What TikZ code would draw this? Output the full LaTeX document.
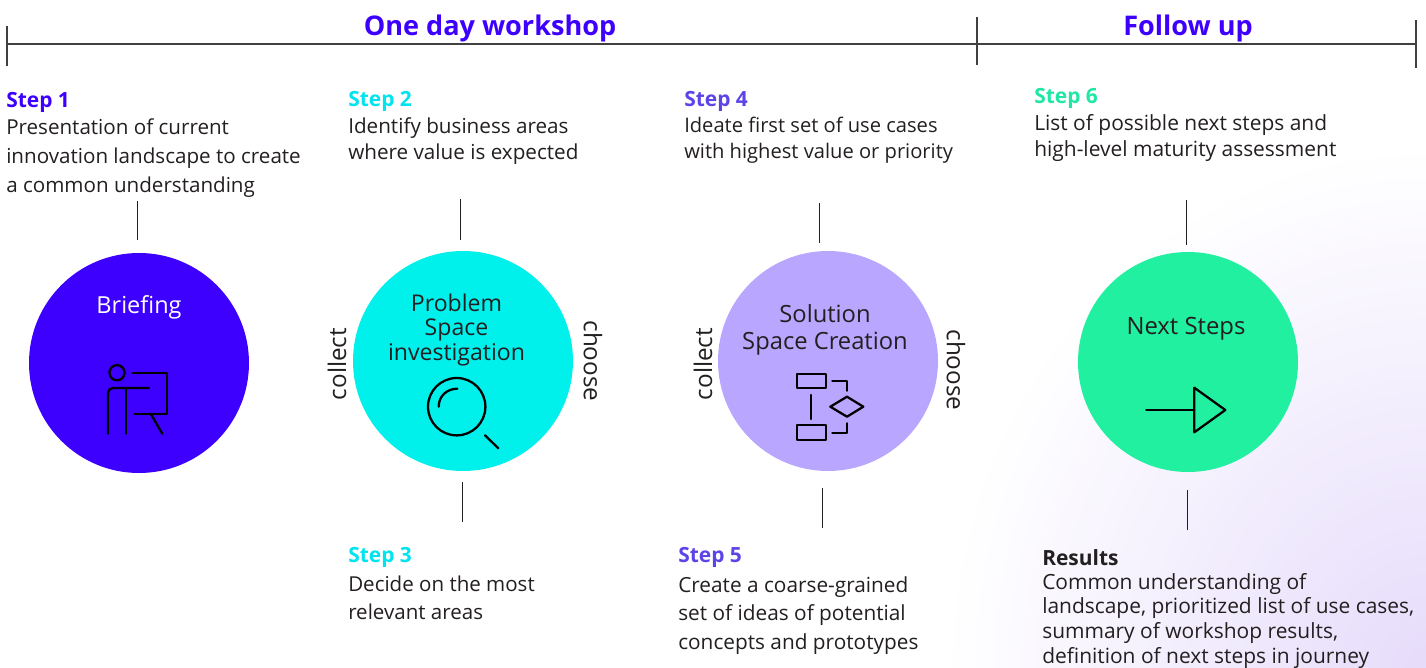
\documentclass[tikz,border=0pt]{standalone}
\usepackage{fontspec}
\setmainfont{Open Sans}
\usepackage{xcolor}
\definecolor{briefblue}{HTML}{3D00FF}
\definecolor{probcyan}{HTML}{00F0EC}
\definecolor{solpurple}{HTML}{B8A6FF}
\definecolor{nextgreen}{HTML}{20F0A0}
\definecolor{stepcyan}{HTML}{00E4F0}
\definecolor{steppurple}{HTML}{5B44E8}
\definecolor{stepgreen}{HTML}{20E8A4}
\definecolor{inktext}{HTML}{231F20}
\definecolor{barline}{HTML}{404040}
\definecolor{bglilac}{HTML}{E6DCFB}
\tikzset{
	stepcircle/.style={circle, minimum size=165pt, inner sep=0pt},
	circlelabel/.style={align=center, font=\fontsize{17.6}{19}\selectfont, inner sep=0pt, text=inktext},
	sidelabel/.style={font=\fontsize{18.2}{19}\selectfont, inner sep=0pt, text=inktext},
	bartitle/.style={font=\fontsize{20.3}{24}\selectfont\bfseries, text=briefblue, inner sep=0pt},
	stephead/.style={anchor=base west, font=\fontsize{15.7}{18}\selectfont\bfseries, inner sep=0pt},
	stepbody/.style={anchor=north west, align=left, inner sep=0pt, text=inktext},
	tickline/.style={draw=inktext, line width=0.75pt},
	barrule/.style={draw=barline, line width=1.6pt},
	iconline/.style={draw=black, line width=1.7pt, line cap=round, line join=round}
}
\newcommand{\bodyfont}[2]{\fontsize{#1}{#2}\selectfont}
\begin{document}
\begin{tikzpicture}[x=0.75pt,y=-0.75pt]
\useasboundingbox (0,0) rectangle (1426,667);
\begin{scope}
\clip (0,0) rectangle (1426,667);
\shade[inner color=bglilac, outer color=white] (1426,667) ellipse (480 and 520);
\end{scope}
% top bar
\coordinate (barA) at (7,44);
\coordinate (barC) at (1416,44);
\draw[barrule] (barA) -- (barC);
\foreach \n/\x/\yt/\yb in {A/7/26/66,B/977/17/65,C/1416/20/68} {
	\coordinate (top\n) at (\x,\yt);
	\coordinate (bot\n) at (\x,\yb);
	\draw[barrule] (top\n) -- (bot\n);
}
\node[bartitle] (oneday) at (490,28.5) {One day workshop};
\node[bartitle] (followup) at (1188,28.5) {Follow up};
% circles
\node[stepcircle, fill=briefblue] (briefing) at (139,363) {};
\node[stepcircle, fill=probcyan] (problem) at (463,361) {};
\node[stepcircle, fill=solpurple] (solution) at (828,361) {};
\node[stepcircle, fill=nextgreen] (nextsteps) at (1188,362) {};
\node[circlelabel, text=white] (brieflabel) at (139,307) {Briefing};
\node[circlelabel, font=\fontsize{17.3}{18.7}\selectfont] (problabel) at (456.5,330) {Problem\\Space\\investigation};
\node[circlelabel, font=\fontsize{17.8}{20.2}\selectfont] (sollabel) at (825,330) {Solution\\Space Creation};
\node[circlelabel, font=\fontsize{17.9}{19}\selectfont] (nextlabel) at (1186,329) {Next Steps};
% collect and choose
\node[sidelabel, rotate=90] (collectA) at (337,364) {collect};
\node[sidelabel, rotate=-90] (chooseA) at (593,361) {choose};
\node[sidelabel, rotate=90] (collectB) at (703,364) {collect};
\node[sidelabel, rotate=-90] (chooseB) at (956,370) {choose};
% step texts
\node[stephead, text=briefblue] (stepone) at (6,107) {Step 1};
\node[stepbody, font=\bodyfont{15.45}{22}] (onebody) at (6,118) {Presentation of current\\innovation landscape to create\\a common understanding};
\node[stephead, text=stepcyan] (steptwo) at (348,106) {Step 2};
\node[stepbody, font=\bodyfont{15.5}{19.5}] (twobody) at (348,117) {Identify business areas\\where value is expected};
\node[stephead, text=stepcyan] (stepthree) at (348,562) {Step 3};
\node[stepbody, font=\bodyfont{15.4}{21}] (threebody) at (348,576) {Decide on the most\\relevant areas};
\node[stephead, text=steppurple] (stepfour) at (684,106) {Step 4};
\node[stepbody, font=\bodyfont{15.1}{19.5}] (fourbody) at (684,117) {Ideate first set of use cases\\with highest value or priority};
\node[stephead, text=steppurple] (stepfive) at (678,562) {Step 5};
\node[stepbody, font=\bodyfont{15.6}{21.5}] (fivebody) at (678,576) {Create a coarse-grained\\set of ideas of potential\\concepts and prototypes};
\node[stephead, text=stepgreen] (stepsix) at (1034,103.5) {Step 6};
\node[stepbody, font=\bodyfont{15.7}{19.5}] (sixbody) at (1034,114) {List of possible next steps and\\high-level maturity assessment};
\node[stephead, text=inktext] (results) at (1042,565) {Results};
\node[stepbody, font=\bodyfont{15.7}{18.5}] (resultsbody) at (1042,573) {Common understanding of\\landscape, prioritized list of use cases,\\summary of workshop results,\\definition of next steps in journey};
% connector ticks
\foreach \n/\x/\ya/\yb in {a/137/201/240,b/460/199/240,c/462/482/522,d/819/203/243,e/822/488/528,f/1186/200/245,g/1187/490/530} {
	\coordinate (tick\n u) at (\x,\ya);
	\coordinate (tick\n d) at (\x,\yb);
	\draw[tickline] (tick\n u) -- (tick\n d);
}
% icons
\draw[iconline] (117,372.7) circle (7.6);
\draw[iconline] (132.7,372.7) -- (166.7,372.7) -- (166.7,413.7) -- (134.7,413.7);
\draw[iconline] (150.7,413.7) -- (162.3,433.7);
\draw[iconline] (108,433.7) -- (108,393) arc[start angle=180, end angle=90, x radius=5, y radius=-5] -- (149,388);
\draw[iconline] (126.3,388) -- (126.3,433.7);
\draw[iconline] (456.7,406.7) circle (28.7);
\draw[iconline] (438.7,406.7) .. controls (438.7,396) and (447,388.7) .. (457.3,388.7);
\draw[iconline] (485,435.3) -- (498.3,448.3);
\draw[iconline] (797.3,374) rectangle (826,388.3);
\draw[iconline] (797.3,425.3) rectangle (826,440);
\draw[iconline] (811.3,395) -- (811.3,419);
\draw[iconline] (832.3,381.3) -- (847,381.3) -- (847,390.7);
\draw[iconline] (830.3,406.7) -- (847,396.7) -- (863.3,406.7) -- (847,416.7) -- cycle;
\draw[iconline] (847,423.3) -- (847,432.7) -- (832.3,432.7);
\draw[iconline] (1146.3,410) -- (1194.3,410);
\draw[iconline] (1194.3,387.7) -- (1225.3,410) -- (1194.3,432.3) -- cycle;
\end{tikzpicture}
\end{document}
